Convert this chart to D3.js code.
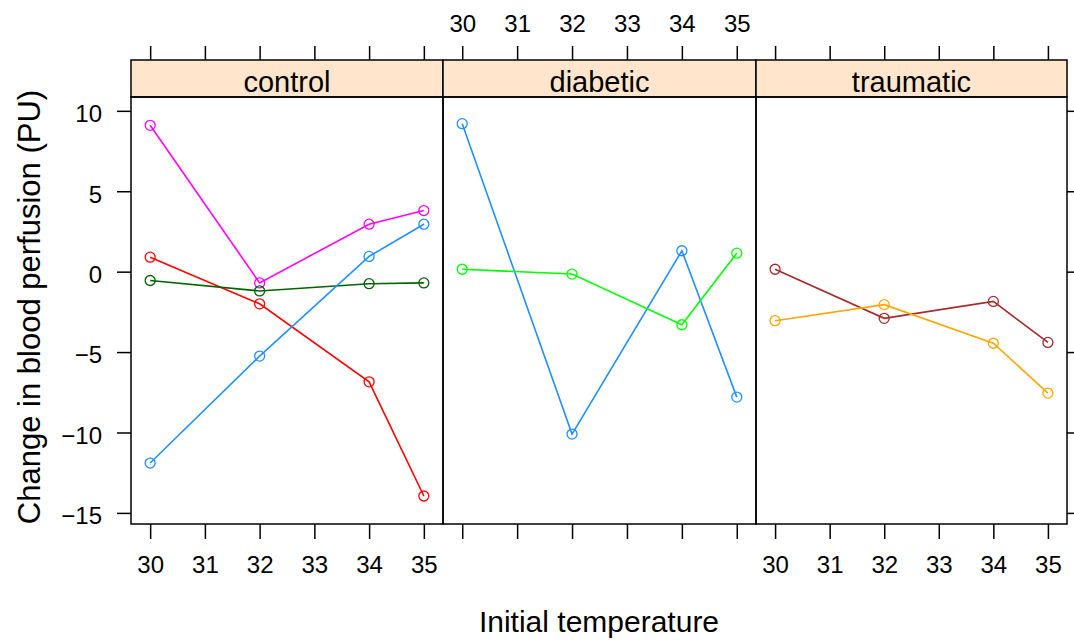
<!DOCTYPE html>
<html>
<head>
<meta charset="utf-8">
<script src="https://cdn.jsdelivr.net/npm/d3@7"></script>
<style>
  body { margin: 0; background: #fff; }
  svg text { font-family: "Liberation Sans", Arial, sans-serif; fill: #000; }
</style>
</head>
<body>
<svg id="chart" width="1074" height="641"></svg>
<script>
// data
var panels = ["control", "diabetic", "traumatic"];
var temps = [30, 32, 34, 35];
var xTicks = [30, 31, 32, 33, 34, 35];
var yTicks = [-15, -10, -5, 0, 5, 10];

var controlMagenta = [9.1, -0.7, 2.95, 3.8];
var controlRed = [0.9, -2.0, -6.85, -13.95];
var controlDarkGreen = [-0.55, -1.2, -0.75, -0.7];
var controlBlue = [-11.9, -5.25, 0.95, 2.95];
var diabeticBlue = [9.2, -10.1, 1.3, -7.8];
var diabeticGreen = [0.15, -0.15, -3.3, 1.15];
var traumaticBrown = [0.15, -2.9, -1.85, -4.4];
var traumaticOrange = [-3.05, -2.05, -4.45, -7.55];

var series = [
  { panel: "control", color: "#FF00FF", values: controlMagenta },
  { panel: "control", color: "#FF0000", values: controlRed },
  { panel: "control", color: "#006400", values: controlDarkGreen },
  { panel: "control", color: "#1E90FF", values: controlBlue },
  { panel: "diabetic", color: "#1E90FF", values: diabeticBlue },
  { panel: "diabetic", color: "#00FF00", values: diabeticGreen },
  { panel: "traumatic", color: "#A52A2A", values: traumaticBrown },
  { panel: "traumatic", color: "#FFA500", values: traumaticOrange }
];

var svg = d3.select("#chart");

var plotTop = 97, plotBottom = 524, stripTop = 60;
var edges = [131, 443, 756, 1067];

var y = d3.scaleLinear().domain([-15.69, 10.86]).range([plotBottom, plotTop]);

var xs = {};
panels.forEach(function(p, i) {
  xs[p] = d3.scaleLinear().domain([29.65, 35.35]).range([edges[i], edges[i + 1]]);
});

function styleAxis(g) {
  g.select(".domain").remove();
  g.selectAll(".tick line").attr("stroke", "#000").attr("stroke-width", 1.5);
  g.selectAll(".tick text").style("font-size", "24px");
}

panels.forEach(function(p, i) {
  var x = xs[p];
  // bottom axis (labels on panels 1 and 3)
  var bAxis = d3.axisBottom(x).tickValues(xTicks).tickSize(15).tickPadding(17)
    .tickFormat(i === 1 ? "" : d3.format("d"));
  svg.append("g").attr("transform", "translate(0," + plotBottom + ")").call(bAxis).call(styleAxis);

  // top axis above the strip (labels on panel 2)
  var tAxis = d3.axisTop(x).tickValues(xTicks).tickSize(14).tickPadding(14)
    .tickFormat(i === 1 ? d3.format("d") : "");
  svg.append("g").attr("transform", "translate(0," + stripTop + ")").call(tAxis).call(styleAxis);

  // strip
  svg.append("rect")
    .attr("x", edges[i]).attr("y", stripTop)
    .attr("width", edges[i + 1] - edges[i]).attr("height", plotTop - stripTop)
    .attr("fill", "#FFE5CC").attr("stroke", "#000").attr("stroke-width", 1.5);
  svg.append("text")
    .attr("x", (edges[i] + edges[i + 1]) / 2).attr("y", 92)
    .attr("text-anchor", "middle").style("font-size", "29px")
    .text(p);

  // panel frame
  svg.append("rect")
    .attr("x", edges[i]).attr("y", plotTop)
    .attr("width", edges[i + 1] - edges[i]).attr("height", plotBottom - plotTop)
    .attr("fill", "none").attr("stroke", "#000").attr("stroke-width", 1.5);
});

// left axis with labels, right axis ticks only
var lAxis = d3.axisLeft(y).tickValues(yTicks).tickSize(14).tickPadding(15).tickFormat(d3.format("d"));
svg.append("g").attr("transform", "translate(" + edges[0] + ",0)").call(lAxis).call(styleAxis)
  .selectAll(".tick text").attr("dy", "0.45em");
var rAxis = d3.axisRight(y).tickValues(yTicks).tickSize(14).tickFormat("");
svg.append("g").attr("transform", "translate(" + edges[3] + ",0)").call(rAxis).call(styleAxis);

// lines and points
var points = series.map(function(s) {
  return s.values.map(function(v, k) { return { t: temps[k], v: v }; });
});

series.forEach(function(s, i) {
  var x = xs[s.panel];
  var line = d3.line().x(function(d) { return x(d.t); }).y(function(d) { return y(d.v); });
  svg.append("path")
    .datum(points[i])
    .attr("d", line)
    .attr("fill", "none")
    .attr("stroke", s.color)
    .attr("stroke-width", 1.6);
  svg.selectAll(null)
    .data(points[i])
    .enter().append("circle")
    .attr("cx", function(d) { return x(d.t); })
    .attr("cy", function(d) { return y(d.v); })
    .attr("r", 5)
    .attr("fill", "none")
    .attr("stroke", s.color)
    .attr("stroke-width", 1.3);
});

// axis titles
svg.append("text")
  .attr("x", (edges[0] + edges[3]) / 2).attr("y", 632)
  .attr("text-anchor", "middle").style("font-size", "30px")
  .text("Initial temperature");

svg.append("text")
  .attr("transform", "translate(40,307) rotate(-90)")
  .attr("text-anchor", "middle").style("font-size", "31px")
  .text("Change in blood perfusion (PU)");
</script>
</body>
</html>
